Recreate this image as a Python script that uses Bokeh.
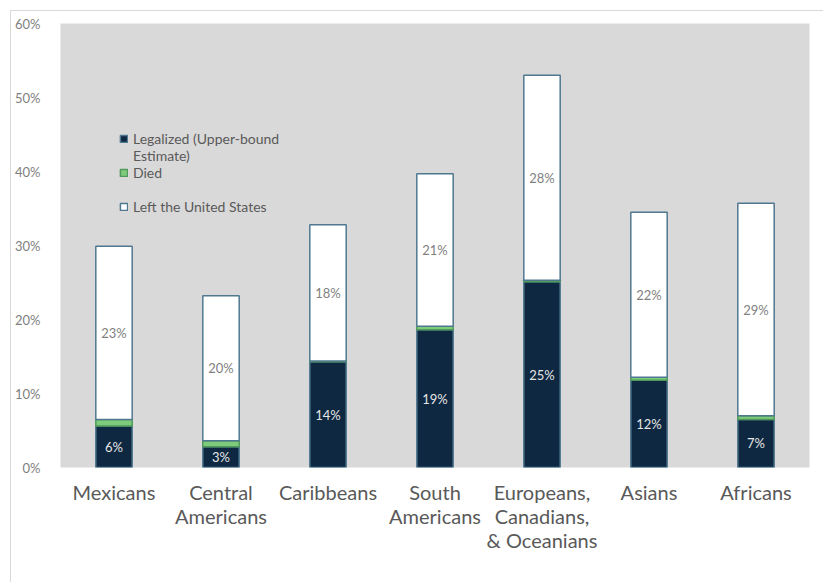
from bokeh.plotting import figure
from bokeh.models import ColumnDataSource, Legend, LegendItem, FactorRange, Range1d, FixedTicker
from bokeh.core.properties import value
from bokeh.embed import file_html
from bokeh.resources import INLINE
import numpy as np

categories = ["Mexicans", "Central\nAmericans", "Caribbeans", "South\nAmericans",
              "Europeans,\nCanadians,\n& Oceanians", "Asians", "Africans"]
legalized = [5.6, 2.8, 14.3, 18.6, 25.1, 11.8, 6.5]
died = [0.9, 0.8, 0.1, 0.5, 0.2, 0.4, 0.5]
left_us = [23.4, 19.6, 18.4, 20.6, 27.7, 22.3, 28.7]
legalized_labels = ["6%", "3%", "14%", "19%", "25%", "12%", "7%"]
left_labels = ["23%", "20%", "18%", "21%", "28%", "22%", "29%"]
y_ticks = [0, 10, 20, 30, 40, 50, 60]
legend_lines = ["Legalized (Upper-bound", "Estimate)", "Died", " ", "Left the United States"]

FONT = "Lato"
DARK = "#0e2841"
GREEN = "#7dcb7b"
EDGE = "#4f7890"

leg = np.array(legalized)
die = np.array(died)
lft = np.array(left_us)

source = ColumnDataSource(dict(
    cat=categories, legalized=legalized, died=died, left_us=left_us,
    leg_mid=leg / 2, left_mid=leg + die + lft / 2,
    leg_lab=legalized_labels, left_lab=left_labels,
))

p = figure(width=813, height=572, x_range=FactorRange(*categories),
           y_range=Range1d(0, 60), output_backend="svg", toolbar_location=None,
           min_border_left=49, min_border_right=15, min_border_top=12, min_border_bottom=116,
           frame_width=749, frame_height=444)
p.background_fill_color = "#d9d9d9"
p.border_fill_color = "white"
p.outline_line_color = None
p.xgrid.grid_line_color = None
p.ygrid.grid_line_color = None
p.x_range.range_padding = 0

rs = p.vbar_stack(["legalized", "died", "left_us"], x="cat", width=0.34, source=source,
                  fill_color=[DARK, GREEN, "white"], line_color=[EDGE, "#4f9a5a", EDGE],
                  line_width=1.5)

# invisible renderer used only for spacer rows in the legend
blank = p.scatter(x=[], y=[], size=0, fill_alpha=0, line_alpha=0)

p.text(x="cat", y="leg_mid", text="leg_lab", source=source, text_align="center",
       text_baseline="middle", text_color="#e6e6e6", text_font=value(FONT),
       text_font_size="13px")
p.text(x="cat", y="left_mid", text="left_lab", source=source, text_align="center",
       text_baseline="middle", text_color="#7f7f7f", text_font=value(FONT),
       text_font_size="13px")

p.yaxis.ticker = FixedTicker(ticks=y_ticks)
p.yaxis.major_label_overrides = {t: f"{t}%" for t in y_ticks}
p.yaxis.axis_line_color = None
p.yaxis.major_tick_line_color = None
p.yaxis.minor_tick_line_color = None
p.yaxis.major_label_text_font = FONT
p.yaxis.major_label_text_font_size = "13px"
p.yaxis.major_label_text_color = "#7f7f7f"
p.yaxis.major_label_standoff = 14

p.xaxis.axis_line_color = None
p.xaxis.major_tick_line_color = None
p.xaxis.minor_tick_line_color = None
p.xaxis.major_label_text_font = FONT
p.xaxis.major_label_text_font_size = "20px"
p.xaxis.major_label_text_color = "#595959"
p.xaxis.major_label_text_line_height = 1.0
p.xaxis.major_label_standoff = 6

legend = Legend(items=[LegendItem(label=legend_lines[0], renderers=[rs[0]]),
                       LegendItem(label=legend_lines[1], renderers=[blank]),
                       LegendItem(label=legend_lines[2], renderers=[rs[1]]),
                       LegendItem(label=legend_lines[3], renderers=[blank]),
                       LegendItem(label=legend_lines[4], renderers=[rs[2]])],
                location=(59, 252), orientation="vertical")
legend.background_fill_alpha = 0
legend.border_line_alpha = 0
legend.label_text_font = FONT
legend.label_text_font_size = "14px"
legend.label_text_color = "#595959"
legend.glyph_height = 9
legend.glyph_width = 9
legend.label_standoff = 5
legend.spacing = 0
legend.padding = 0
legend.margin = 0
legend.label_height = 17
p.add_layout(legend)

p.styles = {"margin": "10px 0 0 10px", "border-left": "1px solid #d9d9d9",
            "border-top": "1px solid #d9d9d9"}

open("out.html", "w").write(file_html(p, INLINE))
